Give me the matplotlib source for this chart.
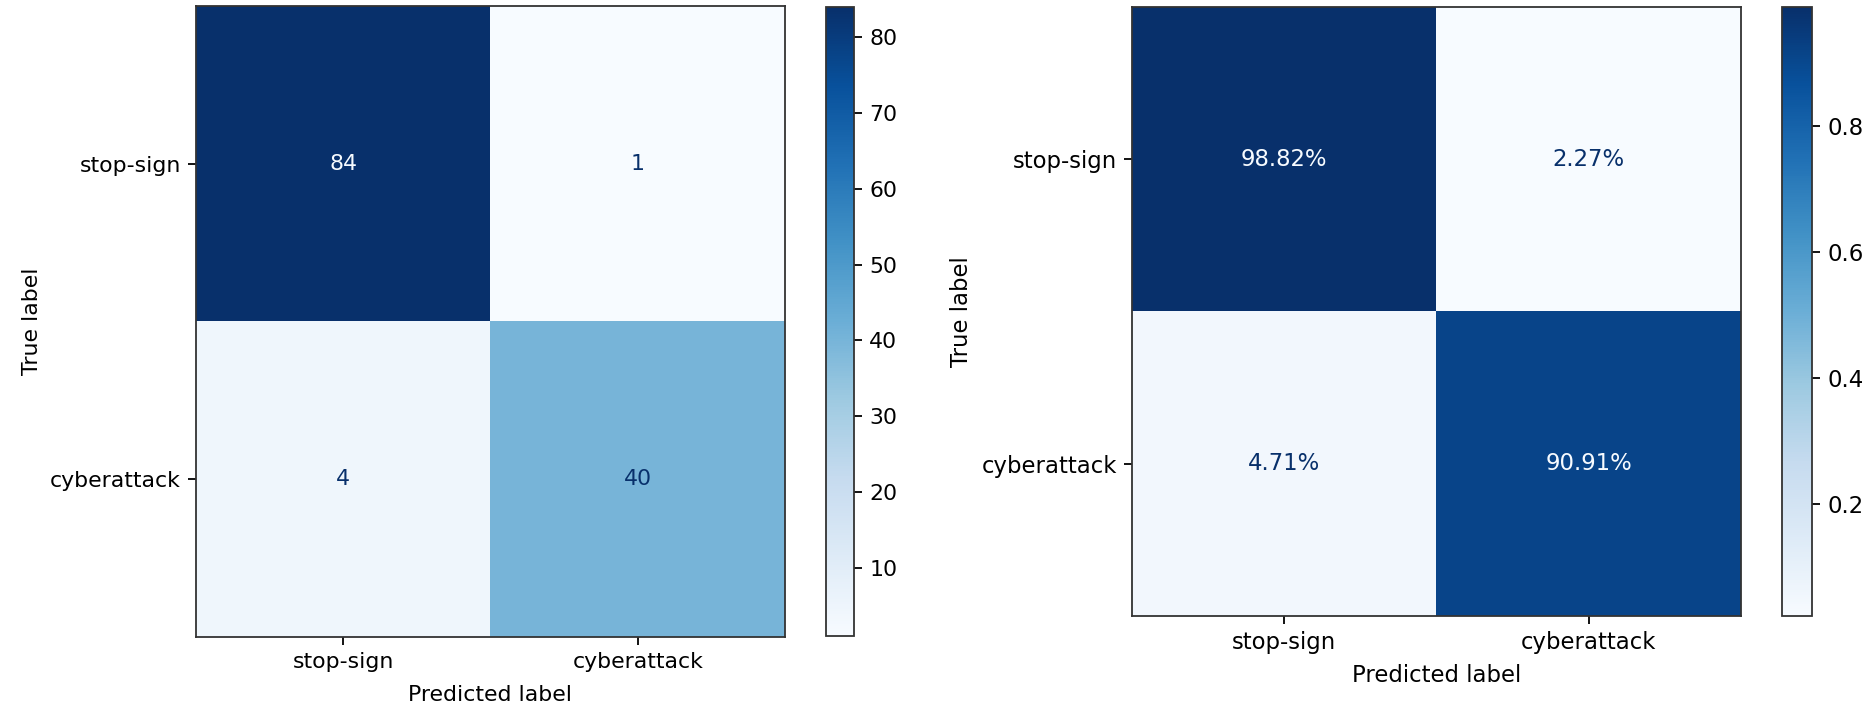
import numpy as np
import matplotlib
matplotlib.use("Agg")
import matplotlib.pyplot as plt

# Class names and confusion-matrix results
classes = ["stop-sign", "cyberattack"]
counts = np.array([[84, 1],
                   [4, 40]])
# Column-normalised percentages (share of each predicted class)
percent = np.array([[98.82, 2.27],
                    [4.71, 90.91]])
count_ticks = [10, 20, 30, 40, 50, 60, 70, 80]
ratio_ticks = [0.2, 0.4, 0.6, 0.8]

W, H = 1875, 713
fig = plt.figure(figsize=(W / 100, H / 100), dpi=100)
cmap = plt.get_cmap("Blues")


def frac(x0, y0, x1, y1):
    return [x0 / W, 1 - y1 / H, (x1 - x0) / W, (y1 - y0) / H]


def draw_matrix(ax, cax, values, texts, ticks, fs, xpad):
    im = ax.imshow(values, cmap=cmap, aspect="auto", interpolation="nearest")
    vmin, vmax = values.min(), values.max()
    thresh = (vmin + vmax) / 2.0
    for i in range(values.shape[0]):
        for j in range(values.shape[1]):
            color = cmap(1.0) if values[i, j] < thresh else cmap(0.0)
            ax.text(j, i, texts[i][j], ha="center", va="center",
                    color=color, fontsize=fs)
    ax.set_xticks(range(len(classes)))
    ax.set_yticks(range(len(classes)))
    ax.set_xticklabels(classes, fontsize=fs)
    ax.set_yticklabels(classes, fontsize=fs)
    ax.set_xlabel("Predicted label", fontsize=fs, labelpad=xpad)
    ax.set_ylabel("True label", fontsize=fs, labelpad=6)
    ax.tick_params(length=6, width=1.3, pad=5)
    for s in ax.spines.values():
        s.set_linewidth(1.3)
        s.set_color("#333333")
    cb = fig.colorbar(im, cax=cax, ticks=ticks)
    cb.ax.tick_params(labelsize=fs, length=6, width=1.3, pad=5)
    cb.outline.set_linewidth(1.3)
    cb.outline.set_edgecolor("#333333")
    return im


# Left: raw counts
ax1 = fig.add_axes(frac(196, 6, 785, 637))
cax1 = fig.add_axes(frac(826, 7, 854, 636))
draw_matrix(ax1, cax1, counts,
            [[str(v) for v in row] for row in counts],
            count_ticks, 15.8, 9)

# Right: normalised shares
ax2 = fig.add_axes(frac(1132, 7, 1741, 616))
cax2 = fig.add_axes(frac(1782, 7, 1812, 616))
draw_matrix(ax2, cax2, percent / 100.0,
            [[f"{v:.2f}%" for v in row] for row in percent],
            ratio_ticks, 16.4, 7)

fig.savefig("out.png", dpi=100)
